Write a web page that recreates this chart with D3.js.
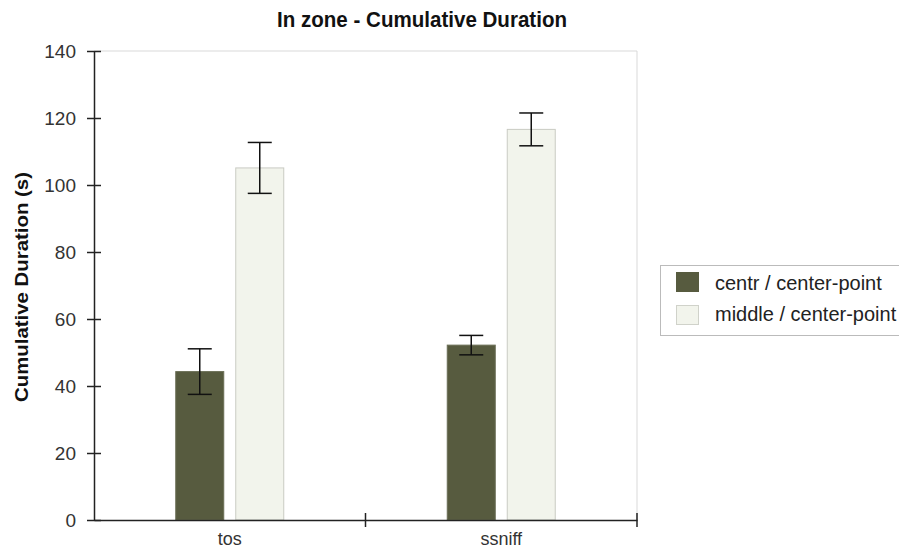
<!DOCTYPE html>
<html><head><meta charset="utf-8">
<script src="https://cdn.jsdelivr.net/npm/d3@7"></script>
<style>body{margin:0;background:#fff;} svg{display:block;font-family:"Liberation Sans",Arial,sans-serif;}</style>
</head><body>
<svg id="c" width="899" height="550"></svg>
<script>
const categories = ["tos", "ssniff"];
const seriesNames = ["centr / center-point", "middle / center-point"];
const centrValues = [44.3, 52.2];
const centrErrors = [6.8, 2.9];
const middleValues = [105.1, 116.6];
const middleErrors = [7.6, 4.9];
const yTicks = [0, 20, 40, 60, 80, 100, 120, 140];
const colors = ["#575b3f", "#f2f4ec"];

(function(){
const svg = d3.select("#c");
const pL = 94, pR = 637, pT = 51, pB = 520;

const x0 = d3.scaleBand().domain(categories).range([pL, pR]).padding(0);
const x1 = d3.scaleBand().domain(seriesNames).range([0, 108]).paddingInner(0.2).paddingOuter(0);
const y = d3.scaleLinear().domain([0, 140]).range([pB, pT]);

const data = [];
categories.forEach((c, i) => {
  data.push({cat: c, s: seriesNames[0], v: centrValues[i], e: centrErrors[i], col: colors[0]});
  data.push({cat: c, s: seriesNames[1], v: middleValues[i], e: middleErrors[i], col: colors[1]});
});
const bx = d => x0(d.cat) + x0.bandwidth()/2 - 54 + x1(d.s);

svg.append("path").attr("d", `M${pL},${pT}H${pR}V${pB}`)
  .attr("fill", "none").attr("stroke", "#d9d9d9").attr("stroke-width", 1);

svg.append("text").attr("x", 422).attr("y", 27).attr("text-anchor", "middle")
  .attr("font-size", 22).attr("font-weight", "bold").attr("fill", "#111")
  .attr("textLength", 290).attr("lengthAdjust", "spacingAndGlyphs")
  .text("In zone - Cumulative Duration");

svg.append("text").attr("transform", `translate(28,287) rotate(-90)`)
  .attr("text-anchor", "middle").attr("font-size", 19).attr("font-weight", "bold").attr("fill", "#111")
  .attr("textLength", 230).attr("lengthAdjust", "spacingAndGlyphs")
  .text("Cumulative Duration (s)");

svg.selectAll("rect.bar").data(data).enter().append("rect")
  .attr("x", d => bx(d)).attr("width", x1.bandwidth())
  .attr("y", d => y(d.v)).attr("height", d => y(0) - y(d.v))
  .attr("fill", d => d.col)
  .attr("stroke", d => d.col === colors[1] ? "#c9cbc3" : "#6a6e55").attr("stroke-width", 1);

const eg = svg.selectAll("g.err").data(data).enter().append("g").attr("stroke", "#111").attr("stroke-width", 1.5);
eg.append("line").attr("x1", d => bx(d) + x1.bandwidth()/2).attr("x2", d => bx(d) + x1.bandwidth()/2)
  .attr("y1", d => y(d.v + d.e)).attr("y2", d => y(d.v - d.e));
eg.append("line").attr("x1", d => bx(d) + x1.bandwidth()/2 - 12).attr("x2", d => bx(d) + x1.bandwidth()/2 + 12)
  .attr("y1", d => y(d.v + d.e)).attr("y2", d => y(d.v + d.e));
eg.append("line").attr("x1", d => bx(d) + x1.bandwidth()/2 - 12).attr("x2", d => bx(d) + x1.bandwidth()/2 + 12)
  .attr("y1", d => y(d.v - d.e)).attr("y2", d => y(d.v - d.e));

const ya = svg.append("g").attr("transform", `translate(${pL},0)`)
  .call(d3.axisLeft(y).tickValues(yTicks).tickSize(7).tickSizeOuter(0).tickPadding(8));
ya.select(".domain").attr("stroke", "#222").attr("stroke-width", 1.5);
ya.selectAll(".tick line").attr("stroke", "#222").attr("stroke-width", 1.5).attr("x2", 7).attr("x1", -7);
ya.selectAll(".tick text").attr("font-size", 19).attr("fill", "#333").attr("font-family", "Liberation Sans, Arial, sans-serif").attr("x", -18);

const xa = svg.append("g").attr("transform", `translate(0,${pB})`)
  .call(d3.axisBottom(x0).tickSize(0).tickSizeOuter(0).tickPadding(12));
xa.select(".domain").attr("stroke", "#222").attr("stroke-width", 1.5);
xa.selectAll(".tick text").attr("font-size", 18).attr("fill", "#333").attr("font-family", "Liberation Sans, Arial, sans-serif").attr("y", 12);
const bounds = categories.slice(1).map(c => x0(c)).concat([pR]);
xa.selectAll("line.bt").data(bounds).enter().append("line")
  .attr("x1", d => d).attr("x2", d => d).attr("y1", -7).attr("y2", 7)
  .attr("stroke", "#222").attr("stroke-width", 1.5);

const lg = svg.append("g").attr("transform", "translate(660,265)");
lg.append("rect").attr("x", 0.5).attr("y", 0.5).attr("width", 260).attr("height", 70)
  .attr("fill", "#fff").attr("stroke", "#bbb");
seriesNames.forEach((s, i) => {
  lg.append("rect").attr("x", 16.5).attr("y", 7.5 + i * 33).attr("width", 22).attr("height", 19)
    .attr("fill", colors[i]).attr("stroke", i === 1 ? "#d0d2ca" : colors[i]);
  lg.append("text").attr("x", 55).attr("y", 25 + i * 31).attr("font-size", 20).attr("fill", "#222").text(s);
});
})();
</script>
</body></html>
